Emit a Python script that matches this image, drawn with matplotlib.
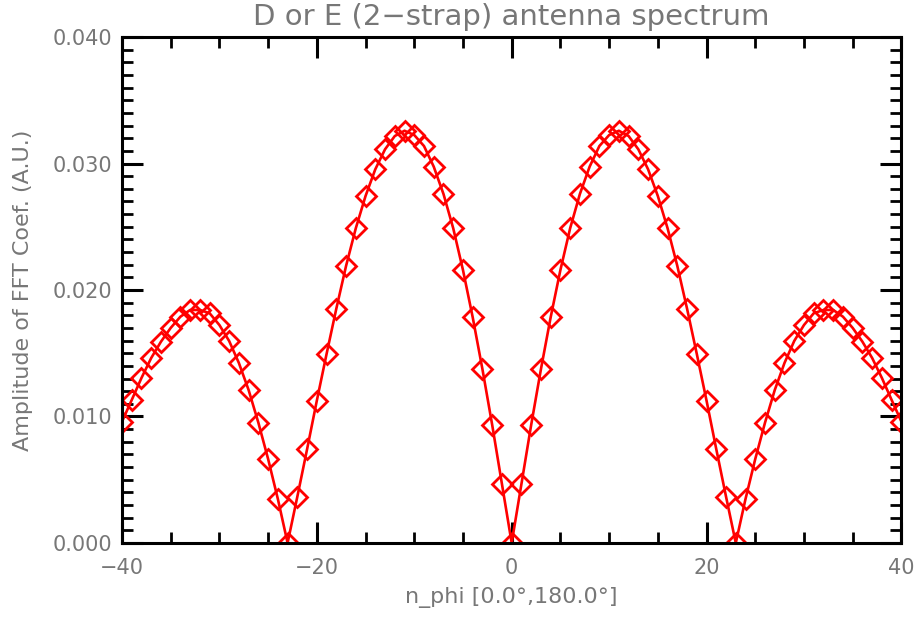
import matplotlib
matplotlib.use("Agg")
import matplotlib.pyplot as plt
from matplotlib.ticker import MultipleLocator
import numpy as np

# toroidal mode numbers
n_phi = np.arange(-40, 41)

# spectrum amplitude for each mode (A.U.)
amplitude = [
    0.00959, 0.01130, 0.01304, 0.01462, 0.01591, 0.01700, 0.01789, 0.01842,
    0.01842, 0.01816, 0.01723, 0.01597, 0.01423, 0.01209, 0.00951, 0.00664,
    0.00348, 0.00000, 0.00366, 0.00741, 0.01125, 0.01494, 0.01852, 0.02190,
    0.02488, 0.02743, 0.02954, 0.03112, 0.03217, 0.03259, 0.03225, 0.03138,
    0.02975, 0.02759, 0.02488, 0.02158, 0.01784, 0.01373, 0.00933, 0.00466,
    0.00000,
    0.00466, 0.00933, 0.01373, 0.01784, 0.02158, 0.02488, 0.02759, 0.02975,
    0.03138, 0.03225, 0.03259, 0.03217, 0.03112, 0.02954, 0.02743, 0.02488,
    0.02190, 0.01852, 0.01494, 0.01125, 0.00741, 0.00366, 0.00000, 0.00348,
    0.00664, 0.00951, 0.01209, 0.01423, 0.01597, 0.01723, 0.01816, 0.01842,
    0.01842, 0.01789, 0.01700, 0.01591, 0.01462, 0.01304, 0.01130, 0.00959,
]

title = "D or E (2\u2212strap) antenna spectrum"
xlabel = "n_phi [0.0\u00b0,180.0\u00b0]"
ylabel = "Amplitude of FFT Coef. (A.U.)"

plt.rcParams["font.family"] = ["DejaVu Sans"]
text_color = "#777777"

fig = plt.figure(figsize=(9.17, 6.17), dpi=100)
ax = fig.add_axes([0.133, 0.120, 0.850, 0.820])

ax.plot(n_phi, amplitude, color="#ff0000", lw=1.9, marker="D", ms=10,
        mfc="none", mec="#ff0000", mew=2.0)

ax.set_xlim(-40, 40)
ax.set_ylim(0, 0.040)
ax.xaxis.set_major_locator(MultipleLocator(20))
ax.xaxis.set_minor_locator(MultipleLocator(5))
ax.yaxis.set_major_locator(MultipleLocator(0.010))
ax.yaxis.set_minor_locator(MultipleLocator(0.001))
ax.yaxis.set_major_formatter(plt.FuncFormatter(lambda v, p: f"{v:.3f}"))

for s in ax.spines.values():
    s.set_linewidth(2.2)
    s.set_color("black")

ax.tick_params(which="both", direction="in", top=True, right=True,
               color="black", labelcolor=text_color, labelsize=15)
ax.tick_params(which="major", length=15, width=2.2)
ax.tick_params(which="minor", length=8, width=2.0)
ax.tick_params(axis="x", which="major", pad=11)
ax.tick_params(axis="y", which="major", pad=7)

ax.set_title(title, color=text_color, fontsize=21, pad=9)
ax.set_xlabel(xlabel, color=text_color, fontsize=16, labelpad=6)
ax.set_ylabel(ylabel, color=text_color, fontsize=16, labelpad=14)

fig.savefig("out.png", dpi=100)
